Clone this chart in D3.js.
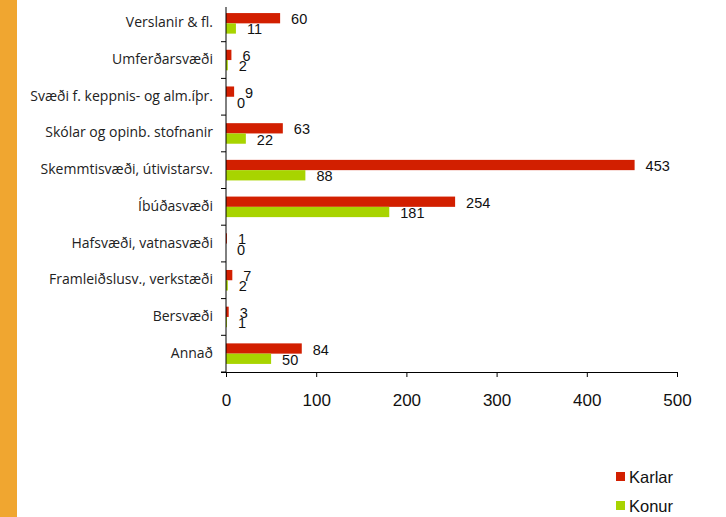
<!DOCTYPE html>
<html>
<head>
<meta charset="utf-8">
<script src="https://cdn.jsdelivr.net/npm/d3@7"></script>
<style>
	body { margin: 0; background: #fff; }
	svg { display: block; }
</style>
</head>
<body>
<svg></svg>
<script>
const categories = ['Verslanir & fl.', 'Umferðarsvæði', 'Svæði f. keppnis- og alm.íþr.', 'Skólar og opinb. stofnanir',
	'Skemmtisvæði, útivistarsv.', 'Íbúðasvæði', 'Hafsvæði, vatnasvæði', 'Framleiðslusv., verkstæði', 'Bersvæði', 'Annað'];
const karlar = [60, 6, 9, 63, 453, 254, 1, 7, 3, 84];
const konur = [11, 2, 0, 22, 88, 181, 0, 2, 1, 50];
const xTicks = [0, 100, 200, 300, 400, 500];
const seriesNames = ['Karlar', 'Konur'];
const colors = ['#d21f00', '#a8d400'];

var width = 726, height = 517;
var svg = d3.select('svg').attr('width', width).attr('height', height);

// orange strip on the left
svg.append('rect').attr('x', 0).attr('y', 0).attr('width', 17).attr('height', height).attr('fill', '#f0a630');

let x = d3.scaleLinear().domain([0, 500]).range([226, 677]);
let y = d3.scaleBand().domain(categories).range([5, 372]);
let barH = y.bandwidth() * 0.28;

let rows = categories.map((c, i) => ({ cat: c, vals: [karlar[i], konur[i]] }));

let g = svg.append('g');
rows.forEach(r => {
	r.vals.forEach((v, s) => {
		let top = y(r.cat) + y.bandwidth() / 2 - barH + s * barH;
		g.append('rect')
			.attr('x', x(0))
			.attr('y', top)
			.attr('width', x(v) - x(0))
			.attr('height', barH)
			.attr('fill', colors[s]);
		g.append('text')
			.attr('x', x(v) + 11)
			.attr('y', top + barH / 2 + 6)
			.attr('font-family', 'Liberation Sans, Arial, sans-serif')
			.attr('font-size', 14.5)
			.attr('fill', '#111')
			.text(v);
	});
});

// y axis
svg.append('line').attr('x1', 226).attr('x2', 226).attr('y1', 7).attr('y2', 372).attr('stroke', '#000');
svg.selectAll('.ytick')
	.data(categories.slice(1).concat([null]))
	.join('line')
	.attr('x1', 221).attr('x2', 226)
	.attr('y1', (d, i) => y(categories[i]) + y.bandwidth())
	.attr('y2', (d, i) => y(categories[i]) + y.bandwidth())
	.attr('stroke', '#000');

svg.selectAll('.cat')
	.data(categories)
	.join('text')
	.attr('x', 213)
	.attr('y', d => y(d) + y.bandwidth() / 2 + 4)
	.attr('text-anchor', 'end')
	.attr('font-family', 'Open Sans, sans-serif')
	.attr('font-size', 14)
	.attr('fill', '#222')
	.text(d => d);

// x axis
let xAxis = svg.append('g')
	.attr('transform', 'translate(0,372)')
	.call(d3.axisBottom(x).tickValues(xTicks).tickSize(5).tickSizeOuter(0));
xAxis.select('.domain').attr('d', 'M221,0.5H677');
xAxis.selectAll('text')
	.attr('font-family', 'Liberation Sans, Arial, sans-serif')
	.attr('font-size', 17)
	.attr('fill', '#111')
	.attr('dy', 0)
	.attr('y', 34);

// legend
let legend = svg.append('g');
seriesNames.forEach((n, i) => {
	legend.append('rect').attr('x', 616).attr('y', 472 + i * 29).attr('width', 9).attr('height', 9).attr('fill', colors[i]);
	legend.append('text')
		.attr('x', 629).attr('y', 483 + i * 29)
		.attr('font-family', 'Liberation Sans, Arial, sans-serif')
		.attr('font-size', 16.5)
		.attr('fill', '#111')
		.text(n);
});
</script>
</body>
</html>
